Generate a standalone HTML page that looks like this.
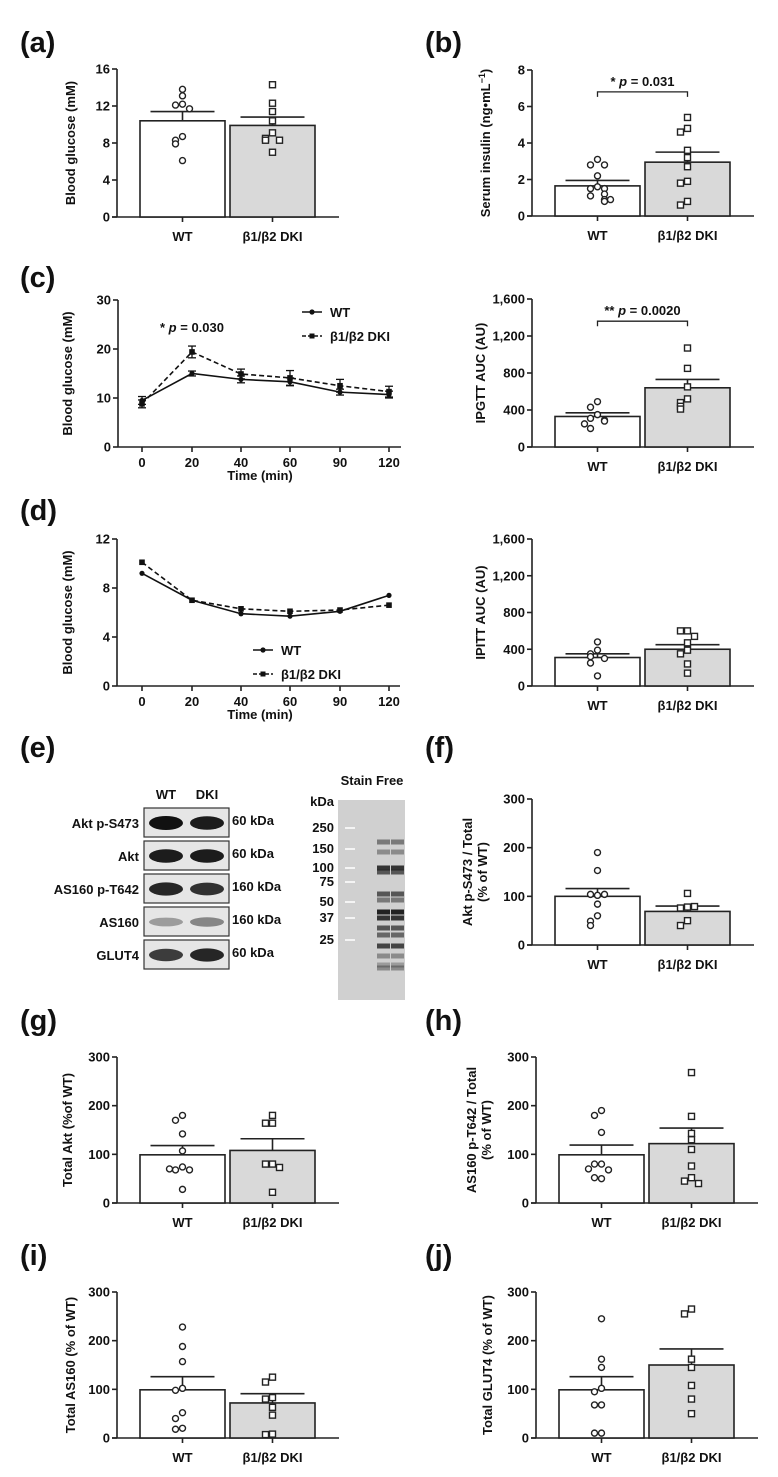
<!DOCTYPE html>
<html><head><meta charset="utf-8">
<style>
html,body{margin:0;padding:0;background:#fff;}
svg{display:block;font-family:"Liberation Sans",Arial,sans-serif;}
.t{font-weight:bold;font-size:13px;fill:#111;}
.pl{font-weight:bold;font-size:29px;fill:#111;}
</style></head>
<body>
<svg id="fig" width="778" height="1477" viewBox="0 0 778 1477" xmlns="http://www.w3.org/2000/svg"></svg>
<script>
// ---- data ----
const groups = ["WT", "β1/β2 DKI"];
const aMean = [10.4, 9.9];
const aSem = [1.0, 0.9];
const aWT = [13.8,13.1,12.2,12.1,11.7,8.7,8.3,7.9,6.1];
const aDKI = [14.3,12.3,11.4,10.4,9.1,8.5,8.3,8.3,7.0];
const bMean = [1.65, 2.95];
const bSem = [0.3, 0.55];
const bWT = [3.1,2.8,2.8,2.2,1.6,1.5,1.5,1.2,1.1,0.9,0.8,0.9];
const bDKI = [5.4,4.8,4.6,3.6,3.2,2.7,1.9,1.8,0.8,0.6];
const times = [0,20,40,60,90,120];
const cWT = [9.5,15.0,13.8,13.3,11.2,10.7];
const cWTsem = [0.8,0.5,0.7,0.8,0.6,0.7];
const cDKI = [8.8,19.4,14.9,14.1,12.5,11.3];
const cDKIsem = [0.8,1.2,1.0,1.5,1.3,1.1];
const cAucMean = [330, 640];
const cAucSem = [40, 90];
const cAucWT = [490,430,350,310,290,280,250,200];
const cAucDKI = [1070,850,650,520,480,440,410];
const dWT = [9.2,7.0,5.9,5.7,6.1,7.4];
const dDKI = [10.1,7.0,6.3,6.1,6.2,6.6];
const dAucMean = [310, 400];
const dAucSem = [40, 50];
const dAucWT = [480,390,350,320,300,250,110];
const dAucDKI = [600,600,540,470,390,350,240,140];
const fMean = [100, 69];
const fSem = [16, 11];
const fWT = [190,153,102,104,104,84,60,49,40];
const fDKI = [106,78,76,79,50,40];
const gMean = [99, 108];
const gSem = [19, 24];
const gWT = [180,170,142,107,74,68,68,70,28];
const gDKI = [180,164,164,80,80,73,22];
const hMean = [99, 122];
const hSem = [20, 32];
const hWT = [190,180,145,80,80,68,70,50,52];
const hDKI = [268,178,143,130,110,76,52,45,40];
const iMean = [99, 72];
const iSem = [27, 19];
const iWT = [228,188,157,102,98,52,40,20,18];
const iDKI = [125,115,83,80,63,47,8,7];
const jMean = [99, 150];
const jSem = [27, 33];
const jWT = [245,162,145,102,95,68,68,10,10];
const jDKI = [265,255,162,145,108,80,50];

const NS = "http://www.w3.org/2000/svg";
const fig = document.getElementById('fig');
function el(tag, attrs, parent, text){
  const e = document.createElementNS(NS, tag);
  for (const k in attrs) e.setAttribute(k, attrs[k]);
  if (text !== undefined) e.textContent = text;
  (parent || fig).appendChild(e);
  return e;
}
function txt(x,y,s,cls,anchor,parent,extra){
  const a = Object.assign({x:x,y:y,class:cls||'t','text-anchor':anchor||'middle'}, extra||{});
  return el('text', a, parent, s);
}

function panelLabel(x,y,s){
  const t = txt(x,y,s,'pl','start');
  
  
}

function yAxis(g, ax, y0, y1, min, max, ticks, fmt, title, titleX){
  const sy = v => y0 - (v - min) / (max - min) * (y0 - y1);
  const axis = el('line',{x1:ax,y1:y1,x2:ax,y2:y0,stroke:'#222','stroke-width':1.6},g);
  
  
  ticks.forEach(v=>{
    el('line',{x1:ax-5,y1:sy(v),x2:ax,y2:sy(v),stroke:'#222','stroke-width':1.6},g);
    const tl = txt(ax-7, sy(v)+4.5, fmt(v), 't', 'end', g);
    
    
  });
  const cy = (y0 + y1) / 2;
  if (Array.isArray(title)) {
    title.forEach((s,k)=>{
      const tt = txt(titleX + k*15, cy, s, 't', 'middle', g, {transform:`rotate(-90 ${titleX + k*15} ${cy})`});
      
      
    });
  } else {
    const tt = txt(titleX, cy, '', 't', 'middle', g, {transform:`rotate(-90 ${titleX} ${cy})`});
    tt.innerHTML = title;
    
    
  }
  return sy;
}

function barChart(o){
  const g = el('g',{});
  
  
  const sy = yAxis(g, o.ax, o.y0, o.y1, 0, o.max, o.ticks, o.fmt, o.title, o.titleX);
  const xa = el('line',{x1:o.ax-5,y1:o.y0,x2:o.ax+222,y2:o.y0,stroke:'#222','stroke-width':1.6},g);
  
  
  const bx = [o.ax+23, o.ax+113];
  const bw = 85;
  const fills = ['#fff','#d9d9d9'];
  const pts = [o.wt, o.dki];
  o.mean.forEach((m,i)=>{
    const cx = bx[i] + bw/2;
    const b = el('rect',{x:bx[i],y:sy(m),width:bw,height:o.y0-sy(m),fill:fills[i],stroke:'#222','stroke-width':1.6},g);
    
    
    el('line',{x1:cx,y1:sy(m),x2:cx,y2:sy(m+o.sem[i]),stroke:'#222','stroke-width':1.6},g);
    el('line',{x1:cx-32,y1:sy(m+o.sem[i]),x2:cx+32,y2:sy(m+o.sem[i]),stroke:'#222','stroke-width':1.6},g);
    el('line',{x1:cx,y1:o.y0,x2:cx,y2:o.y0+5,stroke:'#222','stroke-width':1.6},g);
    const lab = txt(cx, o.y0+24, groups[i], 't', 'middle', g, {'font-size':'14px'});
    
    
    // points
    const sorted = pts[i];
    const offs = [0,-7,7,-13,13];
    sorted.forEach((v,k)=>{
      // spread points that lie close in value
      let cnt = 0;
      for (let q=0;q<k;q++) if (Math.abs(sy(sorted[q])-sy(v))<6) cnt++;
      const px = cx + offs[cnt % offs.length];
      let p;
      if (i===0) p = el('circle',{cx:px,cy:sy(v),r:3,fill:'#fff',stroke:'#222','stroke-width':1.4},g);
      else p = el('rect',{x:px-3,y:sy(v)-3,width:6,height:6,fill:'#fff',stroke:'#222','stroke-width':1.4},g);
      
      
    });
  });
  if (o.sig){
    const yb = sy(o.sig.y);
    const c1 = bx[0]+bw/2, c2 = bx[1]+bw/2;
    const br = el('path',{d:`M${c1} ${yb+5} V${yb} H${c2} V${yb+5}`,fill:'none',stroke:'#222','stroke-width':1.3},g);
    
    
    const st = txt((c1+c2)/2, yb-6, '', 't', 'middle', g, {'font-weight':'normal','font-size':'14px'});
    st.innerHTML = o.sig.text;
    
    
  }
}

function lineChart(o){
  const g = el('g',{});
  
  
  const sy = yAxis(g, o.ax, o.y0, o.y1, 0, o.max, o.ticks, v=>String(v), o.title, o.titleX);
  const tx = [142,192,241,290,340,389];
  const sx = t => tx[times.indexOf(t)];
  const xa = el('line',{x1:o.ax,y1:o.y0,x2:o.ax+283,y2:o.y0,stroke:'#222','stroke-width':1.6},g);
  
  
  times.forEach(t=>{
    el('line',{x1:sx(t),y1:o.y0,x2:sx(t),y2:o.y0+5,stroke:'#222','stroke-width':1.6},g);
    const l = txt(sx(t), o.y0+20, String(t), 't', 'middle', g);
    
    
  });
  const xt = txt(260, o.y0+33, 'Time (min)', 't', 'middle', g, {'font-size':'14px'});
  
  
  const series = [[o.wt,o.wtSem,'',0],[o.dki,o.dkiSem,'5,3',1]];
  series.forEach(([vals,sem,dash,idx])=>{
    const d = vals.map((v,k)=>(k?'L':'M')+sx(times[k])+' '+sy(v)).join(' ');
    const p = el('path',{d:d,fill:'none',stroke:'#111','stroke-width':1.6,'stroke-dasharray':dash},g);
    
    
    vals.forEach((v,k)=>{
      const x = sx(times[k]);
      if (sem){
        el('line',{x1:x,y1:sy(v-sem[k]),x2:x,y2:sy(v+sem[k]),stroke:'#111','stroke-width':1.3},g);
        el('line',{x1:x-4,y1:sy(v+sem[k]),x2:x+4,y2:sy(v+sem[k]),stroke:'#111','stroke-width':1.3},g);
        el('line',{x1:x-4,y1:sy(v-sem[k]),x2:x+4,y2:sy(v-sem[k]),stroke:'#111','stroke-width':1.3},g);
      }
      let m;
      if (idx===0) m = el('circle',{cx:x,cy:sy(v),r:2.6,fill:'#111'},g);
      else m = el('rect',{x:x-2.8,y:sy(v)-2.8,width:5.6,height:5.6,fill:'#111'},g);
      
      
    });
  });
  // legend
  const L = o.legend;
  [['WT','',0],['β1/β2 DKI','4,2',1]].forEach(([s,dash,k])=>{
    const y = L.y + k*24;
    const lg = el('g',{},g);
    
    
    el('line',{x1:L.x,y1:y,x2:L.x+20,y2:y,stroke:'#111','stroke-width':1.6,'stroke-dasharray':dash},lg);
    if (k===0) el('circle',{cx:L.x+10,cy:y,r:2.6,fill:'#111'},lg);
    else el('rect',{x:L.x+7.5,y:y-2.5,width:5,height:5,fill:'#111'},lg);
    txt(L.x+28, y+5, s, 't', 'start', lg, {'font-weight':'normal','font-size':'14px'});
  });
  if (o.sig){
    const st = txt(o.sig.x, sy(o.sig.y), '', 't', 'middle', g, {'font-weight':'normal','font-size':'14px'});
    st.innerHTML = o.sig.text;
    
    
  }
}

const pct = [0,100,200,300];
const f1 = v=>String(v);
const fk = v=> v>=1000 ? Math.floor(v/1000)+','+String(v%1000).padStart(3,'0') : String(v);

panelLabel(20,52,'(a)'); panelLabel(425,52,'(b)');
panelLabel(20,287,'(c)'); panelLabel(20,520,'(d)');
panelLabel(20,757,'(e)'); panelLabel(425,757,'(f)');
panelLabel(20,1030,'(g)'); panelLabel(425,1030,'(h)');
panelLabel(20,1265,'(i)'); panelLabel(425,1265,'(j)');

barChart({name:'chart-a-blood-glucose',ax:117,y0:217,y1:69,max:16,ticks:[0,4,8,12,16],fmt:f1,title:'Blood glucose (mM)',titleX:75,mean:aMean,sem:aSem,wt:aWT,dki:aDKI});
barChart({name:'chart-b-serum-insulin',ax:532,y0:216,y1:70,max:8,ticks:[0,2,4,6,8],fmt:f1,title:'Serum insulin (ng•mL<tspan dy="-5" font-size="9">−1</tspan><tspan dy="5">)</tspan>',titleX:490,mean:bMean,sem:bSem,wt:bWT,dki:bDKI,sig:{y:6.8,text:'* <tspan font-style="italic">p</tspan> = 0.031'}});
lineChart({name:'chart-c-ipgtt',ax:118,y0:447,y1:300,max:30,ticks:[0,10,20,30],title:'Blood glucose (mM)',titleX:72,wt:cWT,wtSem:cWTsem,dki:cDKI,dkiSem:cDKIsem,legend:{x:302,y:312},sig:{x:192,y:23.5,text:'* <tspan font-style="italic">p</tspan> = 0.030'}});
barChart({name:'chart-c-ipgtt-auc',ax:532,y0:447,y1:299,max:1600,ticks:[0,400,800,1200,1600],fmt:fk,title:'IPGTT AUC (AU)',titleX:485,mean:cAucMean,sem:cAucSem,wt:cAucWT,dki:cAucDKI,sig:{y:1360,text:'** <tspan font-style="italic">p</tspan> = 0.0020'}});
lineChart({name:'chart-d-ipitt',ax:117,y0:686,y1:539,max:12,ticks:[0,4,8,12],title:'Blood glucose (mM)',titleX:72,wt:dWT,wtSem:null,dki:dDKI,dkiSem:null,legend:{x:253,y:650}});
barChart({name:'chart-d-ipitt-auc',ax:532,y0:686,y1:539,max:1600,ticks:[0,400,800,1200,1600],fmt:fk,title:'IPITT AUC (AU)',titleX:485,mean:dAucMean,sem:dAucSem,wt:dAucWT,dki:dAucDKI});
barChart({name:'chart-f-akt-ratio',ax:532,y0:945,y1:799,max:300,ticks:pct,fmt:f1,title:['Akt p-S473 / Total','(% of WT)'],titleX:472,mean:fMean,sem:fSem,wt:fWT,dki:fDKI});
barChart({name:'chart-g-total-akt',ax:117,y0:1203,y1:1057,max:300,ticks:pct,fmt:f1,title:'Total Akt (%of WT)',titleX:72,mean:gMean,sem:gSem,wt:gWT,dki:gDKI});
barChart({name:'chart-h-as160-ratio',ax:536,y0:1203,y1:1057,max:300,ticks:pct,fmt:f1,title:['AS160 p-T642 / Total','(% of WT)'],titleX:476,mean:hMean,sem:hSem,wt:hWT,dki:hDKI});
barChart({name:'chart-i-total-as160',ax:117,y0:1438,y1:1292,max:300,ticks:pct,fmt:f1,title:'Total AS160 (% of WT)',titleX:75,mean:iMean,sem:iSem,wt:iWT,dki:iDKI});
barChart({name:'chart-j-total-glut4',ax:536,y0:1438,y1:1292,max:300,ticks:pct,fmt:f1,title:'Total GLUT4 (% of WT)',titleX:492,mean:jMean,sem:jSem,wt:jWT,dki:jDKI});

// ---- western blot (e) ----
const blotRows = ["Akt p-S473","Akt","AS160 p-T642","AS160","GLUT4"];
const blotKda = ["60 kDa","60 kDa","160 kDa","160 kDa","60 kDa"];
const blotDark = [[1,0.95],[0.95,0.95],[0.9,0.85],[0.35,0.45],[0.8,0.9]];
const gb = el('g',{});


txt(166,799,'WT','t','middle',gb,{'font-size':'14px'});
txt(207,799,'DKI','t','middle',gb,{'font-size':'14px'});
blotRows.forEach((r,i)=>{
  const y = 808 + i*33;
  const rg = el('g',{},gb);
  
  
  el('rect',{x:144,y:y,width:85,height:29,fill:'#e6e6e6',stroke:'#333','stroke-width':1.2},rg);
  blotDark[i].forEach((d,k)=>{
    const cx = 166 + k*41;
    el('ellipse',{cx:cx,cy:y+15,rx:17,ry:3+4*d,fill:'#111','fill-opacity':d},rg);
  });
  txt(139,y+20,r,'t','end',rg,{'font-weight':'normal','font-size':'14.5px'});
  txt(232,y+17,blotKda[i],'t','start',rg,{'font-weight':'normal','font-size':'14.5px'});
});
// stain free gel
const sg = el('g',{});


txt(372,785,'Stain Free','t','middle',sg,{'font-weight':'normal','font-size':'13px'});
txt(334,806,'kDa','t','end',sg,{'font-weight':'normal','font-size':'11px'});
el('rect',{x:338,y:800,width:67,height:200,fill:'#d0d0d0'},sg);
const ladder = ["250","150","100","75","50","37","25"];
const ladderY = [828,849,868,882,902,918,940];
ladder.forEach((s,i)=>{
  txt(334,ladderY[i]+4,s,'t','end',sg,{'font-weight':'normal','font-size':'12px'});
  el('rect',{x:345,y:ladderY[i]-1,width:10,height:2,fill:'#f4f4f4'},sg);
});
const bands = [[842,0.5],[852,0.4],[868,0.9],[872,0.7],[894,0.7],[900,0.5],[912,1],[918,0.9],[928,0.7],[935,0.6],[946,0.8],[956,0.4],[965,0.3],[968,0.4]];
bands.forEach(([y,d])=>{
  [384,398].forEach(cx=>{
    el('rect',{x:cx-7,y:y-2.5,width:13,height:5,fill:'#222','fill-opacity':d},sg);
  });
});
</script>
</body></html>
